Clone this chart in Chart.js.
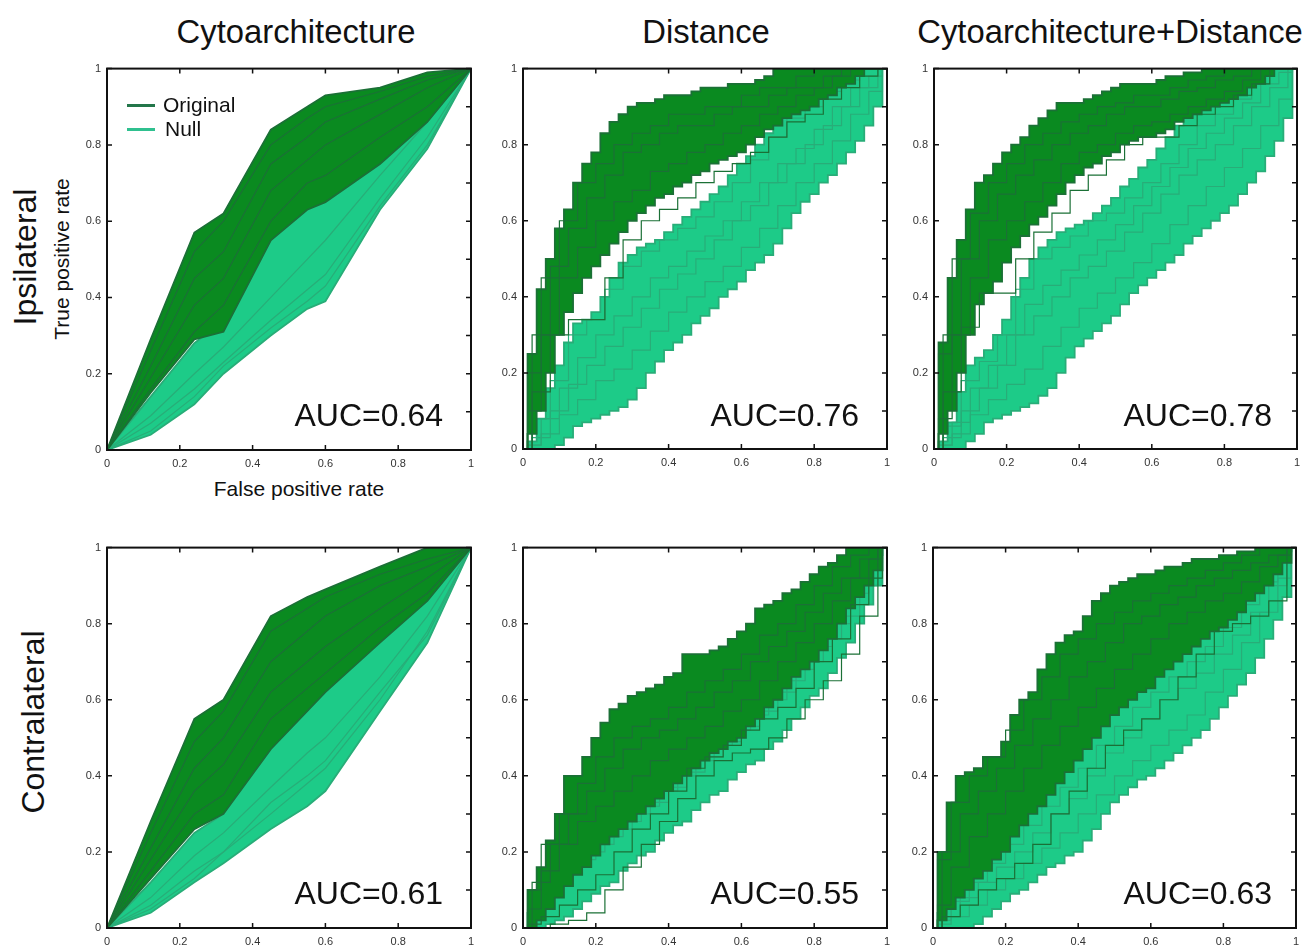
<!DOCTYPE html>
<html>
<head>
<meta charset="utf-8">
<script src="https://cdn.jsdelivr.net/npm/chart.js@4.4.1/dist/chart.umd.min.js"></script>
<style>
  body { margin: 0; width: 1305px; height: 947px; background: #fff; position: relative; overflow: hidden;
         font-family: "Liberation Sans", Arial, sans-serif; }
  .panel { position: absolute; }
  .txt { position: absolute; white-space: nowrap; line-height: 1; color: #111; transform: translate(-50%, -50%); }
  .rot { transform: translate(-50%, -50%) rotate(-90deg); }
  .auc { position: absolute; white-space: nowrap; line-height: 1; color: #111; font-size: 32px; transform: translate(-100%, -50%); }
  .leg { position: absolute; height: 3px; width: 28px; }
</style>
</head>
<body>

<div class="txt" style="left:296px; top:32px; font-size:32.8px;">Cytoarchitecture</div>
<div class="txt" style="left:706px; top:32px; font-size:32.8px;">Distance</div>
<div class="txt" style="left:1110px; top:32px; font-size:32.8px;">Cytoarchitecture+Distance</div>

<div class="txt rot" style="left:25px; top:257px; font-size:32px;">Ipsilateral</div>
<div class="txt rot" style="left:61px; top:259px; font-size:21px;">True positive rate</div>
<div class="txt rot" style="left:33px; top:722px; font-size:32px;">Contralateral</div>
<div class="txt" style="left:299px; top:488px; font-size:21px;">False positive rate</div>

<div class="panel" id="p1"><canvas id="c1"></canvas></div>
<div class="panel" id="p2"><canvas id="c2"></canvas></div>
<div class="panel" id="p3"><canvas id="c3"></canvas></div>
<div class="panel" id="p4"><canvas id="c4"></canvas></div>
<div class="panel" id="p5"><canvas id="c5"></canvas></div>
<div class="panel" id="p6"><canvas id="c6"></canvas></div>

<div class="leg" style="left:127px; top:104px; background:#23764a;"></div>
<div class="txt" style="left:163px; top:104px; font-size:21px; transform:translate(0,-50%);">Original</div>
<div class="leg" style="left:127px; top:128px; background:#2fc08f;"></div>
<div class="txt" style="left:165px; top:128px; font-size:21px; transform:translate(0,-50%);">Null</div>

<div class="auc" style="left:443px; top:415px;">AUC=0.64</div>
<div class="auc" style="left:859px; top:415px;">AUC=0.76</div>
<div class="auc" style="left:1272px; top:415px;">AUC=0.78</div>
<div class="auc" style="left:443px; top:893px;">AUC=0.61</div>
<div class="auc" style="left:859px; top:893px;">AUC=0.55</div>
<div class="auc" style="left:1272px; top:893px;">AUC=0.63</div>

<script>
// ---- axis ticks ----
const tickValues = [0, 0.2, 0.4, 0.6, 0.8, 1];
const tickLabels = ['0', '0.2', '0.4', '0.6', '0.8', '1'];
const minorTicks = [0.1, 0.3, 0.5, 0.7, 0.9];

// ---- x grids the curves are read at ----
const cytoX = [0, 0.12, 0.24, 0.32, 0.45, 0.55, 0.6, 0.75, 0.88, 1];
const stepXA = [0, 0.05, 0.1, 0.15, 0.2, 0.25, 0.3, 0.35, 0.4, 0.45, 0.5, 0.55, 0.6, 0.65, 0.7, 0.75, 0.8, 0.85, 0.9, 0.95, 1];
const stepXB = [0, 0.025, 0.075, 0.125, 0.175, 0.225, 0.275, 0.325, 0.375, 0.425, 0.475, 0.525, 0.575, 0.625, 0.675, 0.725, 0.775, 0.825, 0.875, 0.925, 0.975, 1];
const stepXF = [0, 0.025, 0.05, 0.075, 0.1, 0.125, 0.15, 0.175, 0.2, 0.225, 0.25, 0.275, 0.3, 0.325, 0.35, 0.375, 0.4, 0.425, 0.45, 0.475,
                0.5, 0.525, 0.55, 0.575, 0.6, 0.625, 0.65, 0.675, 0.7, 0.725, 0.75, 0.775, 0.8, 0.825, 0.85, 0.875, 0.9, 0.925, 0.95, 0.975, 1];

// ---- Ipsilateral / Cytoarchitecture ----
const ipsiCytoOrigHi = [0, 0.29, 0.57, 0.62, 0.84, 0.9, 0.93, 0.95, 0.99, 1];
const ipsiCytoOrigLo = [0, 0.15, 0.29, 0.31, 0.55, 0.63, 0.65, 0.75, 0.86, 1];
const ipsiCytoOrig1 = [0, 0.26, 0.52, 0.6, 0.8, 0.87, 0.9, 0.94, 0.98, 1];
const ipsiCytoOrig2 = [0, 0.22, 0.45, 0.52, 0.75, 0.82, 0.86, 0.92, 0.97, 1];
const ipsiCytoOrig3 = [0, 0.19, 0.38, 0.45, 0.68, 0.76, 0.8, 0.88, 0.95, 1];
const ipsiCytoOrig4 = [0, 0.16, 0.31, 0.38, 0.6, 0.7, 0.72, 0.82, 0.9, 1];
const ipsiCytoNullHi = [0, 0.14, 0.28, 0.34, 0.55, 0.65, 0.7, 0.82, 0.9, 1];
const ipsiCytoNullLo = [0, 0.04, 0.12, 0.2, 0.3, 0.37, 0.39, 0.63, 0.79, 1];
const ipsiCytoNull1 = [0, 0.07, 0.16, 0.23, 0.34, 0.42, 0.46, 0.66, 0.82, 1];
const ipsiCytoNull2 = [0, 0.09, 0.2, 0.27, 0.4, 0.5, 0.55, 0.72, 0.86, 1];
const ipsiCytoNull3 = [0, 0.05, 0.14, 0.22, 0.32, 0.39, 0.43, 0.64, 0.8, 1];

// ---- Ipsilateral / Distance ----
const ipsiDistOrigHi = [0, 0.25, 0.42, 0.5, 0.58, 0.63, 0.7, 0.75, 0.78, 0.83, 0.86, 0.88, 0.9, 0.91, 0.91, 0.92, 0.93, 0.93, 0.93, 0.94,
                        0.95, 0.95, 0.95, 0.96, 0.96, 0.96, 0.97, 0.98, 1, 1, 1, 1, 1, 1, 1, 1, 1, 1, 1, 1, 1];
const ipsiDistOrigLo = [0, 0.04, 0.1, 0.2, 0.3, 0.36, 0.41, 0.45, 0.48, 0.51, 0.54, 0.57, 0.6, 0.62, 0.64, 0.66, 0.67, 0.69, 0.7, 0.72,
                        0.73, 0.75, 0.76, 0.77, 0.78, 0.8, 0.82, 0.84, 0.85, 0.87, 0.88, 0.89, 0.9, 0.92, 0.93, 0.95, 0.96, 0.98, 1, 1, 1];
const ipsiDistOrig1 = [0, 0.2, 0.45, 0.6, 0.7, 0.75, 0.8, 0.83, 0.85, 0.88, 0.88, 0.9, 0.9, 0.93, 0.95, 0.95, 0.98, 1, 1, 1, 1, 1];
const ipsiDistOrig2 = [0, 0.3, 0.48, 0.58, 0.66, 0.72, 0.78, 0.8, 0.83, 0.85, 0.85, 0.88, 0.9, 0.9, 0.93, 0.95, 0.95, 0.98, 1, 1, 1];
const ipsiDistOrig3 = [0, 0.1, 0.3, 0.45, 0.53, 0.6, 0.65, 0.68, 0.73, 0.75, 0.78, 0.8, 0.83, 0.85, 0.88, 0.9, 0.93, 0.95, 0.98, 1, 1, 1];
const ipsiDistOrig4 = [0, 0.15, 0.3, 0.34, 0.34, 0.45, 0.55, 0.6, 0.63, 0.66, 0.7, 0.73, 0.75, 0.78, 0.82, 0.86, 0.88, 0.92, 0.95, 0.98, 1];
const ipsiDistNullHi = [0, 0.02, 0.08, 0.16, 0.22, 0.28, 0.33, 0.34, 0.36, 0.4, 0.45, 0.49, 0.51, 0.53, 0.54, 0.55, 0.57, 0.59, 0.61, 0.63,
                        0.65, 0.67, 0.69, 0.72, 0.75, 0.77, 0.8, 0.83, 0.85, 0.87, 0.89, 0.9, 0.92, 0.94, 0.95, 0.97, 0.99, 1, 1, 1, 1];
const ipsiDistNullLo = [0, 0, 0, 0, 0.01, 0.03, 0.06, 0.07, 0.08, 0.09, 0.1, 0.11, 0.13, 0.16, 0.2, 0.23, 0.26, 0.28, 0.3, 0.33,
                        0.35, 0.37, 0.4, 0.42, 0.44, 0.47, 0.49, 0.51, 0.54, 0.58, 0.62, 0.65, 0.67, 0.7, 0.72, 0.75, 0.78, 0.81, 0.85, 0.9, 1];
const ipsiDistNull1 = [0, 0.01, 0.08, 0.16, 0.24, 0.3, 0.35, 0.4, 0.45, 0.48, 0.52, 0.56, 0.6, 0.65, 0.7, 0.75, 0.79, 0.84, 0.9, 0.95, 0.98, 1];
const ipsiDistNull2 = [0, 0.03, 0.1, 0.17, 0.22, 0.27, 0.32, 0.37, 0.42, 0.46, 0.5, 0.55, 0.6, 0.64, 0.7, 0.75, 0.8, 0.85, 0.9, 0.95, 1];
const ipsiDistNull3 = [0, 0.01, 0.04, 0.09, 0.13, 0.18, 0.21, 0.26, 0.31, 0.36, 0.4, 0.44, 0.48, 0.53, 0.58, 0.64, 0.7, 0.75, 0.81, 0.88, 0.94, 1];
const ipsiDistNull4 = [0, 0.08, 0.18, 0.3, 0.34, 0.42, 0.48, 0.52, 0.55, 0.58, 0.61, 0.65, 0.7, 0.76, 0.82, 0.87, 0.9, 0.94, 0.97, 1, 1];

// ---- Ipsilateral / Cytoarchitecture+Distance ----
const ipsiBothOrigHi = [0, 0.28, 0.45, 0.55, 0.63, 0.7, 0.72, 0.75, 0.78, 0.8, 0.82, 0.85, 0.87, 0.89, 0.91, 0.91, 0.91, 0.92, 0.93, 0.94,
                        0.95, 0.96, 0.96, 0.96, 0.96, 0.97, 0.98, 0.98, 0.99, 0.99, 1, 1, 1, 1, 1, 1, 1, 1, 1, 1, 1];
const ipsiBothOrigLo = [0, 0.04, 0.1, 0.2, 0.3, 0.38, 0.41, 0.44, 0.49, 0.53, 0.56, 0.59, 0.61, 0.64, 0.67, 0.7, 0.72, 0.74, 0.75, 0.77,
                        0.78, 0.8, 0.81, 0.82, 0.82, 0.83, 0.84, 0.86, 0.87, 0.88, 0.89, 0.9, 0.91, 0.92, 0.93, 0.95, 0.96, 0.98, 1, 1, 1];
const ipsiBothOrig1 = [0, 0.25, 0.5, 0.62, 0.7, 0.75, 0.8, 0.83, 0.86, 0.88, 0.9, 0.91, 0.93, 0.93, 0.95, 0.97, 0.98, 1, 1, 1, 1, 1];
const ipsiBothOrig2 = [0, 0.3, 0.5, 0.6, 0.67, 0.72, 0.76, 0.8, 0.83, 0.85, 0.88, 0.9, 0.9, 0.92, 0.94, 0.95, 0.97, 0.98, 1, 1, 1];
const ipsiBothOrig3 = [0, 0.08, 0.3, 0.45, 0.55, 0.6, 0.65, 0.7, 0.75, 0.78, 0.8, 0.83, 0.85, 0.86, 0.88, 0.9, 0.92, 0.94, 0.97, 1, 1, 1];
const ipsiBothOrig4 = [0, 0.15, 0.32, 0.41, 0.41, 0.5, 0.57, 0.62, 0.68, 0.72, 0.76, 0.8, 0.82, 0.82, 0.85, 0.88, 0.9, 0.93, 0.96, 1, 1];
const ipsiBothNullHi = [0, 0.02, 0.07, 0.15, 0.22, 0.24, 0.26, 0.3, 0.34, 0.4, 0.45, 0.5, 0.53, 0.55, 0.57, 0.58, 0.59, 0.6, 0.62, 0.64,
                        0.66, 0.69, 0.71, 0.74, 0.76, 0.79, 0.82, 0.85, 0.87, 0.89, 0.9, 0.91, 0.92, 0.94, 0.96, 0.98, 0.99, 1, 1, 1, 1];
const ipsiBothNullLo = [0, 0, 0, 0, 0.02, 0.04, 0.07, 0.08, 0.09, 0.1, 0.11, 0.12, 0.14, 0.16, 0.2, 0.24, 0.27, 0.29, 0.31, 0.33,
                        0.35, 0.38, 0.41, 0.43, 0.45, 0.47, 0.49, 0.51, 0.54, 0.56, 0.58, 0.6, 0.62, 0.64, 0.67, 0.7, 0.73, 0.77, 0.81, 0.87, 1];
const ipsiBothNull1 = [0, 0.01, 0.07, 0.16, 0.22, 0.3, 0.38, 0.43, 0.47, 0.51, 0.55, 0.59, 0.64, 0.69, 0.74, 0.79, 0.83, 0.87, 0.91, 0.96, 0.99, 1];
const ipsiBothNull2 = [0, 0.03, 0.1, 0.16, 0.22, 0.3, 0.35, 0.4, 0.45, 0.48, 0.52, 0.57, 0.62, 0.67, 0.72, 0.76, 0.8, 0.85, 0.9, 0.95, 1];
const ipsiBothNull3 = [0, 0.01, 0.04, 0.09, 0.13, 0.17, 0.21, 0.27, 0.32, 0.37, 0.41, 0.45, 0.49, 0.54, 0.59, 0.64, 0.69, 0.74, 0.79, 0.85, 0.92, 1];
const ipsiBothNull4 = [0, 0.06, 0.18, 0.23, 0.3, 0.42, 0.5, 0.53, 0.56, 0.6, 0.62, 0.66, 0.7, 0.75, 0.8, 0.85, 0.88, 0.92, 0.96, 1, 1];

// ---- Contralateral / Cytoarchitecture ----
const contraCytoOrigHi = [0, 0.28, 0.55, 0.6, 0.82, 0.87, 0.89, 0.95, 1, 1];
const contraCytoOrigLo = [0, 0.13, 0.26, 0.3, 0.47, 0.57, 0.62, 0.75, 0.86, 1];
const contraCytoOrig1 = [0, 0.25, 0.49, 0.57, 0.78, 0.84, 0.87, 0.93, 0.97, 1];
const contraCytoOrig2 = [0, 0.21, 0.42, 0.5, 0.7, 0.78, 0.82, 0.9, 0.95, 1];
const contraCytoOrig3 = [0, 0.18, 0.36, 0.43, 0.62, 0.7, 0.74, 0.84, 0.92, 1];
const contraCytoOrig4 = [0, 0.15, 0.3, 0.35, 0.55, 0.63, 0.67, 0.79, 0.88, 1];
const contraCytoNullHi = [0, 0.12, 0.25, 0.3, 0.5, 0.6, 0.66, 0.8, 0.9, 1];
const contraCytoNullLo = [0, 0.04, 0.12, 0.17, 0.26, 0.32, 0.36, 0.57, 0.75, 1];
const contraCytoNull1 = [0, 0.06, 0.15, 0.2, 0.3, 0.38, 0.42, 0.6, 0.78, 1];
const contraCytoNull2 = [0, 0.08, 0.19, 0.25, 0.37, 0.46, 0.5, 0.66, 0.82, 1];
const contraCytoNull3 = [0, 0.05, 0.13, 0.2, 0.33, 0.4, 0.44, 0.62, 0.77, 1];

// ---- Contralateral / Distance ----
const contraDistOrigHi = [0, 0.1, 0.16, 0.23, 0.3, 0.4, 0.4, 0.45, 0.5, 0.54, 0.575, 0.59, 0.61, 0.62, 0.63, 0.64, 0.66, 0.67, 0.72, 0.72,
                          0.72, 0.73, 0.74, 0.76, 0.78, 0.8, 0.84, 0.85, 0.86, 0.88, 0.89, 0.91, 0.93, 0.95, 0.96, 0.98, 1, 1, 1, 1, 1];
const contraDistOrigLo = [0, 0, 0.02, 0.05, 0.08, 0.11, 0.14, 0.16, 0.19, 0.22, 0.24, 0.26, 0.28, 0.3, 0.32, 0.34, 0.36, 0.38, 0.4, 0.42,
                          0.44, 0.46, 0.47, 0.49, 0.5, 0.53, 0.55, 0.58, 0.6, 0.63, 0.66, 0.68, 0.7, 0.73, 0.76, 0.8, 0.84, 0.87, 0.9, 0.94, 1];
const contraDistOrig1 = [0, 0.1, 0.22, 0.3, 0.38, 0.45, 0.5, 0.53, 0.55, 0.58, 0.62, 0.65, 0.68, 0.72, 0.77, 0.8, 0.85, 0.9, 0.95, 0.98, 1, 1];
const contraDistOrig2 = [0, 0.12, 0.22, 0.3, 0.36, 0.42, 0.47, 0.5, 0.52, 0.55, 0.58, 0.62, 0.65, 0.7, 0.74, 0.78, 0.83, 0.88, 0.92, 0.97, 1];
const contraDistOrig3 = [0, 0.05, 0.15, 0.22, 0.28, 0.32, 0.36, 0.4, 0.44, 0.47, 0.5, 0.53, 0.57, 0.6, 0.65, 0.7, 0.75, 0.8, 0.86, 0.92, 0.97, 1];
const contraDistOrig4 = [0, 0, 0.01, 0.02, 0.04, 0.1, 0.16, 0.22, 0.28, 0.34, 0.4, 0.44, 0.46, 0.47, 0.5, 0.55, 0.6, 0.65, 0.72, 0.82, 1];
const contraDistOrig5 = [0, 0.01, 0.03, 0.06, 0.1, 0.14, 0.2, 0.26, 0.3, 0.36, 0.42, 0.45, 0.48, 0.52, 0.55, 0.58, 0.63, 0.7, 0.76, 0.85, 0.92, 1];
const contraDistNullHi = [0, 0.04, 0.08, 0.14, 0.18, 0.2, 0.22, 0.25, 0.26, 0.27, 0.3, 0.32, 0.34, 0.37, 0.38, 0.41, 0.42, 0.44, 0.46, 0.48,
                          0.5, 0.53, 0.54, 0.56, 0.58, 0.61, 0.62, 0.64, 0.66, 0.69, 0.72, 0.74, 0.78, 0.81, 0.84, 0.87, 0.9, 0.93, 0.96, 0.98, 1];
const contraDistNullLo = [0, 0, 0, 0.01, 0.02, 0.03, 0.05, 0.07, 0.09, 0.11, 0.12, 0.15, 0.17, 0.19, 0.2, 0.23, 0.25, 0.27, 0.28, 0.31,
                          0.33, 0.35, 0.36, 0.39, 0.41, 0.43, 0.44, 0.47, 0.49, 0.52, 0.55, 0.58, 0.61, 0.63, 0.67, 0.71, 0.75, 0.8, 0.85, 0.9, 1];
const contraDistNull1 = [0, 0.02, 0.08, 0.14, 0.18, 0.22, 0.26, 0.3, 0.33, 0.37, 0.41, 0.45, 0.49, 0.53, 0.57, 0.62, 0.68, 0.74, 0.8, 0.88, 0.96, 1];
const contraDistNull2 = [0, 0.05, 0.12, 0.16, 0.2, 0.24, 0.28, 0.32, 0.36, 0.4, 0.44, 0.48, 0.52, 0.56, 0.6, 0.65, 0.7, 0.76, 0.82, 0.9, 1];

// ---- Contralateral / Cytoarchitecture+Distance ----
const contraBothOrigHi = [0, 0.2, 0.33, 0.4, 0.41, 0.42, 0.45, 0.45, 0.49, 0.56, 0.6, 0.62, 0.68, 0.72, 0.75, 0.77, 0.78, 0.82, 0.86, 0.88,
                          0.9, 0.91, 0.92, 0.93, 0.93, 0.94, 0.95, 0.95, 0.96, 0.97, 0.97, 0.97, 0.98, 0.98, 0.99, 0.99, 1, 1, 1, 1, 1];
const contraBothOrigLo = [0, 0.02, 0.05, 0.08, 0.1, 0.13, 0.15, 0.18, 0.2, 0.24, 0.27, 0.3, 0.32, 0.35, 0.38, 0.41, 0.44, 0.47, 0.5, 0.53,
                          0.56, 0.58, 0.6, 0.62, 0.63, 0.66, 0.68, 0.7, 0.72, 0.74, 0.76, 0.78, 0.79, 0.81, 0.83, 0.86, 0.88, 0.9, 0.93, 0.96, 1];
const contraBothOrig1 = [0, 0.18, 0.33, 0.4, 0.45, 0.52, 0.6, 0.66, 0.72, 0.76, 0.8, 0.83, 0.86, 0.88, 0.9, 0.92, 0.94, 0.96, 0.98, 1, 1, 1];
const contraBothOrig2 = [0, 0.2, 0.3, 0.36, 0.42, 0.48, 0.55, 0.6, 0.66, 0.7, 0.75, 0.8, 0.82, 0.85, 0.87, 0.9, 0.92, 0.94, 0.96, 0.98, 1];
const contraBothOrig3 = [0, 0.06, 0.16, 0.24, 0.3, 0.36, 0.42, 0.48, 0.53, 0.58, 0.63, 0.68, 0.72, 0.76, 0.8, 0.83, 0.86, 0.88, 0.91, 0.95, 0.98, 1];
const contraBothOrig4 = [0, 0.03, 0.06, 0.1, 0.13, 0.17, 0.22, 0.3, 0.36, 0.42, 0.48, 0.52, 0.55, 0.6, 0.66, 0.72, 0.78, 0.8, 0.82, 0.86, 1];
const contraBothNullHi = [0, 0.04, 0.08, 0.12, 0.15, 0.17, 0.2, 0.23, 0.26, 0.28, 0.3, 0.33, 0.36, 0.39, 0.42, 0.45, 0.48, 0.52, 0.55, 0.58,
                          0.6, 0.63, 0.65, 0.68, 0.7, 0.72, 0.74, 0.76, 0.78, 0.8, 0.82, 0.84, 0.85, 0.88, 0.9, 0.93, 0.95, 0.97, 0.98, 0.99, 1];
const contraBothNullLo = [0, 0, 0, 0, 0, 0.01, 0.03, 0.05, 0.07, 0.09, 0.1, 0.12, 0.14, 0.16, 0.17, 0.19, 0.2, 0.23, 0.26, 0.3,
                          0.33, 0.35, 0.37, 0.39, 0.4, 0.42, 0.44, 0.46, 0.48, 0.5, 0.52, 0.55, 0.58, 0.61, 0.64, 0.67, 0.71, 0.76, 0.81, 0.87, 1];
const contraBothNull1 = [0, 0.02, 0.07, 0.12, 0.17, 0.22, 0.27, 0.32, 0.37, 0.42, 0.48, 0.53, 0.58, 0.62, 0.66, 0.7, 0.74, 0.79, 0.85, 0.91, 0.97, 1];
const contraBothNull2 = [0, 0.03, 0.08, 0.12, 0.16, 0.2, 0.25, 0.3, 0.34, 0.4, 0.46, 0.5, 0.55, 0.6, 0.63, 0.67, 0.72, 0.77, 0.83, 0.9, 1];
const contraBothNull3 = [0, 0.01, 0.03, 0.06, 0.1, 0.13, 0.17, 0.21, 0.25, 0.3, 0.35, 0.4, 0.44, 0.48, 0.52, 0.56, 0.62, 0.68, 0.75, 0.83, 0.92, 1];

// colours
const origFill = '#0a8a20';
const origLine = '#1b7036';
const nullFill = '#1dcb88';
const nullLine = '#28ad78';

// plot rectangles (left, top, width, height) of each panel
const panels = [
  { id: 'c1', box: [107, 68, 364, 382], stepped: false,
    nullBand: [cytoX, ipsiCytoNullLo, ipsiCytoNullHi],
    nullLines: [[cytoX, ipsiCytoNull1], [cytoX, ipsiCytoNull2], [cytoX, ipsiCytoNull3]],
    origBand: [cytoX, ipsiCytoOrigLo, ipsiCytoOrigHi],
    origLines: [[cytoX, ipsiCytoOrig1], [cytoX, ipsiCytoOrig2], [cytoX, ipsiCytoOrig3], [cytoX, ipsiCytoOrig4]] },
  { id: 'c2', box: [523, 68, 364, 381], stepped: 'middle',
    nullBand: [stepXF, ipsiDistNullLo, ipsiDistNullHi],
    nullLines: [[stepXB, ipsiDistNull1], [stepXA, ipsiDistNull2], [stepXB, ipsiDistNull3], [stepXA, ipsiDistNull4]],
    origBand: [stepXF, ipsiDistOrigLo, ipsiDistOrigHi],
    origLines: [[stepXB, ipsiDistOrig1], [stepXA, ipsiDistOrig2], [stepXB, ipsiDistOrig3], [stepXA, ipsiDistOrig4]] },
  { id: 'c3', box: [934, 68, 363, 381], stepped: 'middle',
    nullBand: [stepXF, ipsiBothNullLo, ipsiBothNullHi],
    nullLines: [[stepXB, ipsiBothNull1], [stepXA, ipsiBothNull2], [stepXB, ipsiBothNull3], [stepXA, ipsiBothNull4]],
    origBand: [stepXF, ipsiBothOrigLo, ipsiBothOrigHi],
    origLines: [[stepXB, ipsiBothOrig1], [stepXA, ipsiBothOrig2], [stepXB, ipsiBothOrig3], [stepXA, ipsiBothOrig4]] },
  { id: 'c4', box: [107, 547, 364, 381], stepped: false,
    nullBand: [cytoX, contraCytoNullLo, contraCytoNullHi],
    nullLines: [[cytoX, contraCytoNull1], [cytoX, contraCytoNull2], [cytoX, contraCytoNull3]],
    origBand: [cytoX, contraCytoOrigLo, contraCytoOrigHi],
    origLines: [[cytoX, contraCytoOrig1], [cytoX, contraCytoOrig2], [cytoX, contraCytoOrig3], [cytoX, contraCytoOrig4]] },
  { id: 'c5', box: [523, 547, 364, 381], stepped: 'middle',
    nullBand: [stepXF, contraDistNullLo, contraDistNullHi],
    nullLines: [[stepXB, contraDistNull1], [stepXA, contraDistNull2]],
    origBand: [stepXF, contraDistOrigLo, contraDistOrigHi],
    origLines: [[stepXB, contraDistOrig1], [stepXA, contraDistOrig2], [stepXB, contraDistOrig3], [stepXA, contraDistOrig4], [stepXB, contraDistOrig5]] },
  { id: 'c6', box: [933, 547, 363, 381], stepped: 'middle',
    nullBand: [stepXF, contraBothNullLo, contraBothNullHi],
    nullLines: [[stepXB, contraBothNull1], [stepXA, contraBothNull2], [stepXB, contraBothNull3]],
    origBand: [stepXF, contraBothOrigLo, contraBothOrigHi],
    origLines: [[stepXB, contraBothOrig1], [stepXA, contraBothOrig2], [stepXB, contraBothOrig3], [stepXA, contraBothOrig4]] }
];

function pts(xs, ys) {
  return xs.map((x, i) => ({ x: x, y: ys[i] }));
}

function lineSet(xs, ys, color, stepped, order, width) {
  return { data: pts(xs, ys), borderColor: color, borderWidth: width, pointRadius: 0,
           stepped: stepped, tension: 0, fill: false, order: order };
}

function bandSets(band, fillColor, lineColor, stepped, order) {
  const lo = lineSet(band[0], band[1], lineColor, stepped, order, 1.8);
  const hi = lineSet(band[0], band[2], lineColor, stepped, order, 1.8);
  hi.fill = '-1';
  hi.backgroundColor = fillColor;
  return [lo, hi];
}

// inward tick marks and black frame, placed with the chart's own scales
const frameTicks = {
  id: 'frameTicks',
  afterDatasetsDraw(chart) {
    const { ctx, chartArea: a, scales: { x, y } } = chart;
    const len = 5;
    ctx.save();
    ctx.strokeStyle = '#111';
    ctx.lineWidth = 1.5;
    ctx.beginPath();
    tickValues.forEach(v => {
      const px = x.getPixelForValue(v);
      const py = y.getPixelForValue(v);
      ctx.moveTo(px, a.bottom); ctx.lineTo(px, a.bottom - len);
      ctx.moveTo(px, a.top); ctx.lineTo(px, a.top + len);
      ctx.moveTo(a.left, py); ctx.lineTo(a.left + len, py);
      ctx.moveTo(a.right, py); ctx.lineTo(a.right - len, py);
    });
    minorTicks.forEach(v => {
      const py = y.getPixelForValue(v);
      ctx.moveTo(a.right, py); ctx.lineTo(a.right - len, py);
    });
    ctx.stroke();
    ctx.lineWidth = 2;
    ctx.strokeRect(a.left, a.top, a.width, a.height);
    ctx.restore();
  }
};

const tickFont = { family: '"Liberation Sans", Arial, sans-serif', size: 11 };

panels.forEach(p => {
  const [left, top, w, h] = p.box;
  const holder = document.getElementById('p' + p.id.slice(1));
  holder.style.left = (left - 40) + 'px';
  holder.style.top = (top - 12) + 'px';
  holder.style.width = (w + 52) + 'px';
  holder.style.height = (h + 40) + 'px';

  const datasets = [].concat(
    bandSets(p.nullBand, nullFill, nullLine, p.stepped, 4),
    p.nullLines.map(l => lineSet(l[0], l[1], nullLine, p.stepped, 3, 1.2)),
    bandSets(p.origBand, origFill, origLine, p.stepped, 2),
    p.origLines.map(l => lineSet(l[0], l[1], origLine, p.stepped, 1, 1.2))
  );

  new Chart(document.getElementById(p.id), {
    type: 'line',
    data: { datasets: datasets },
    options: {
      responsive: true,
      maintainAspectRatio: false,
      animation: false,
      events: [],
      layout: { padding: { left: 12, top: 12, right: 12, bottom: 0 } },
      plugins: { legend: { display: false }, tooltip: { enabled: false } },
      scales: {
        x: {
          type: 'linear', min: 0, max: 1,
          afterFit: s => { s.height = 28; },
          afterBuildTicks: s => { s.ticks = tickValues.map(v => ({ value: v })); },
          ticks: { callback: (v, i) => tickLabels[i], padding: 7, font: tickFont, color: '#333',
                   maxRotation: 0, autoSkip: false },
          grid: { display: false, drawTicks: false },
          border: { display: false }
        },
        y: {
          type: 'linear', min: 0, max: 1,
          afterFit: s => { s.width = 28; },
          afterBuildTicks: s => { s.ticks = tickValues.map(v => ({ value: v })); },
          ticks: { callback: (v, i) => tickLabels[i], padding: 6, font: tickFont, color: '#333', autoSkip: false },
          grid: { display: false, drawTicks: false },
          border: { display: false }
        }
      }
    },
    plugins: [frameTicks]
  });
});
</script>
</body>
</html>
